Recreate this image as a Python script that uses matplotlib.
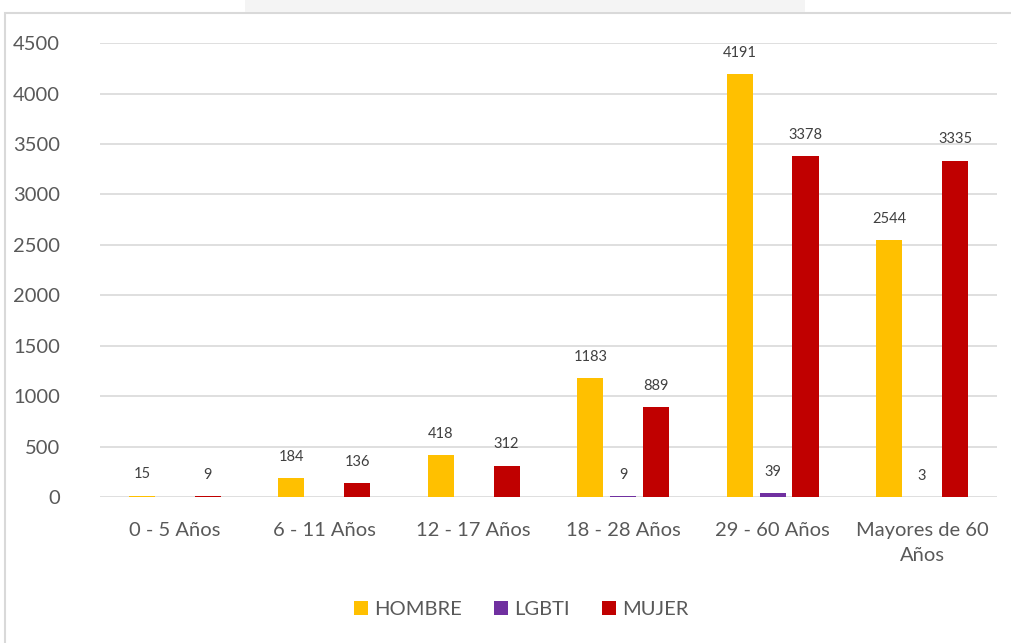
import matplotlib.pyplot as plt
import numpy as np
from matplotlib.patches import Rectangle

plt.rcParams['font.family'] = ['Lato', 'DejaVu Sans']

# datos
categorias = ['0 - 5 Años', '6 - 11 Años', '12 - 17 Años', '18 - 28 Años',
              '29 - 60 Años', 'Mayores de 60\nAños']
hombre = [15, 184, 418, 1183, 4191, 2544]
lgbti = [None, None, None, 9, 39, 3]
mujer = [9, 136, 312, 889, 3378, 3335]

series = [('HOMBRE', hombre, '#FFC000'),
          ('LGBTI', lgbti, '#7030A0'),
          ('MUJER', mujer, '#C00000')]

fig = plt.figure(figsize=(10.11, 6.43), dpi=100)
ax = fig.add_axes([0.099, 0.227, 0.887, 0.706])

# marco y marca de agua superior
fig.patches.append(Rectangle((5 / 1011, -0.01), 1.02, 1 - 13 / 643 + 0.01,
                             transform=fig.transFigure, fill=False,
                             edgecolor='#D9D9D9', linewidth=1.5))
fig.patches.append(Rectangle((245 / 1011, 1 - 12 / 643), 560 / 1011, 12 / 643,
                             transform=fig.transFigure, facecolor='#F4F4F4',
                             edgecolor='none'))

x = np.arange(len(categorias))
ancho = 0.175
paso = 0.22
for i, (nombre, valores, color) in enumerate(series):
    pos = x + (i - 1) * paso
    vals = [v if v is not None else 0 for v in valores]
    ax.bar(pos, vals, ancho, color=color, label=nombre, zorder=3)
    for p, v in zip(pos, valores):
        if v is None:
            continue
        ax.text(p, v + 140, str(v), ha='center', va='bottom',
                fontsize=10.5, color='#404040')

ax.set_xlim(-0.5, 5.5)
ax.set_ylim(0, 4500)
ax.set_yticks(range(0, 4501, 500))
ax.set_xticks(x)
ax.set_xticklabels(categorias, linespacing=1.6)
ax.tick_params(axis='both', length=0, labelsize=14.5, colors='#595959')
ax.tick_params(axis='x', pad=18)
ax.tick_params(axis='y', pad=29)
ax.grid(axis='y', color='#D9D9D9', linewidth=1.2, zorder=0)
for s in ax.spines.values():
    s.set_visible(False)

ax.legend(loc='center', bbox_to_anchor=(0.47, -0.247), ncol=3, frameon=False,
          fontsize=14.5, handlelength=0.7, handleheight=0.7,
          handletextpad=0.3, columnspacing=1.6, labelcolor='#595959')

fig.savefig('out.png', dpi=100)
